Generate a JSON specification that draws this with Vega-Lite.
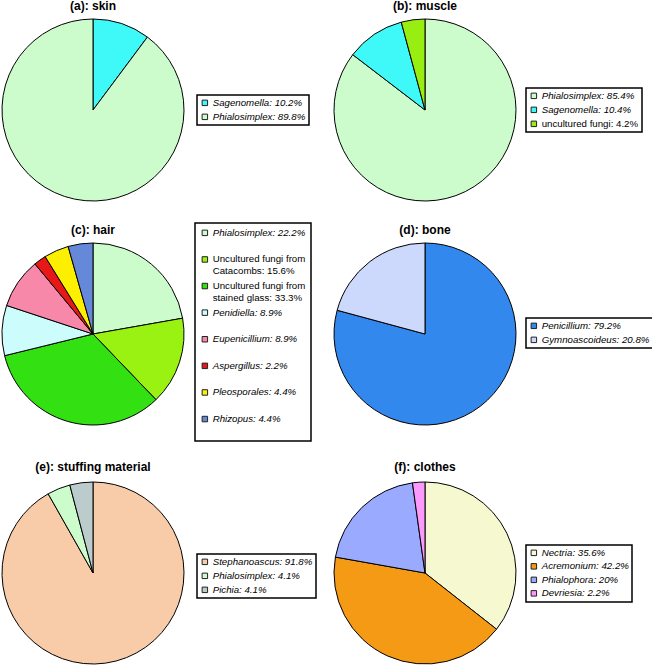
{
  "$schema": "https://vega.github.io/schema/vega-lite/v6.json",
  "padding": {"left": 0, "top": 0, "right": 0, "bottom": 0},
  "background": "white",
  "datasets": {
    "skin": [
      {"idx": 1, "name": "Sagenomella", "pct": 10.2, "label": "Sagenomella: 10.2%"},
      {"idx": 2, "name": "Phialosimplex", "pct": 89.8, "label": "Phialosimplex: 89.8%"}
    ],
    "muscle": [
      {"idx": 1, "name": "Phialosimplex", "pct": 85.4, "label": "Phialosimplex: 85.4%"},
      {"idx": 2, "name": "Sagenomella", "pct": 10.4, "label": "Sagenomella: 10.4%"},
      {"idx": 3, "name": "uncultured fungi", "pct": 4.2, "label": "uncultured fungi: 4.2%"}
    ],
    "hair": [
      {"idx": 1, "name": "Phialosimplex", "pct": 22.2, "label": "Phialosimplex: 22.2%"},
      {"idx": 2, "name": "Uncultured fungi from Catacombs", "pct": 15.6, "label": "Uncultured fungi from Catacombs: 15.6%"},
      {"idx": 3, "name": "Uncultured fungi from stained glass", "pct": 33.3, "label": "Uncultured fungi from stained glass: 33.3%"},
      {"idx": 4, "name": "Penidiella", "pct": 8.9, "label": "Penidiella: 8.9%"},
      {"idx": 5, "name": "Eupenicillium", "pct": 8.9, "label": "Eupenicillium: 8.9%"},
      {"idx": 6, "name": "Aspergillus", "pct": 2.2, "label": "Aspergillus: 2.2%"},
      {"idx": 7, "name": "Pleosporales", "pct": 4.4, "label": "Pleosporales: 4.4%"},
      {"idx": 8, "name": "Rhizopus", "pct": 4.4, "label": "Rhizopus: 4.4%"}
    ],
    "bone": [
      {"idx": 1, "name": "Penicillium", "pct": 79.2, "label": "Penicillium: 79.2%"},
      {"idx": 2, "name": "Gymnoascoideus", "pct": 20.8, "label": "Gymnoascoideus: 20.8%"}
    ],
    "stuffing": [
      {"idx": 1, "name": "Stephanoascus", "pct": 91.8, "label": "Stephanoascus: 91.8%"},
      {"idx": 2, "name": "Phialosimplex", "pct": 4.1, "label": "Phialosimplex: 4.1%"},
      {"idx": 3, "name": "Pichia", "pct": 4.1, "label": "Pichia: 4.1%"}
    ],
    "clothes": [
      {"idx": 1, "name": "Nectria", "pct": 35.6, "label": "Nectria: 35.6%"},
      {"idx": 2, "name": "Acremonium", "pct": 42.2, "label": "Acremonium: 42.2%"},
      {"idx": 3, "name": "Phialophora", "pct": 20, "label": "Phialophora: 20%"},
      {"idx": 4, "name": "Devriesia", "pct": 2.2, "label": "Devriesia: 2.2%"}
    ]
  },
  "columns": 2,
  "spacing": {"row": 19, "column": 15},
  "resolve": {"scale": {"color": "independent", "theta": "independent"}, "legend": {"color": "independent"}},
  "concat": [
    {
      "data": {"name": "skin"},
      "title": {"text": "(a): skin", "offset": 4},
      "width": 182, "height": 182,
      "mark": {"type": "arc", "stroke": "black", "strokeWidth": 1},
      "encoding": {
        "theta": {"field": "pct", "type": "quantitative", "stack": true},
        "order": {"field": "idx", "type": "quantitative"},
        "color": {"field": "label", "type": "nominal",
          "scale": {"domain": ["Sagenomella: 10.2%", "Phialosimplex: 89.8%"], "range": ["#3ff8f8", "#ccfccc"]},
          "legend": {"orient": "none", "legendX": 195, "legendY": 76,
            "encode": {"labels": {"update": {"fontStyle": {"signal": "indexof(lower(datum.label), 'uncultured') === 0 ? 'normal' : 'italic'"}}}}}}
      }
    },
    {
      "data": {"name": "muscle"},
      "title": {"text": "(b): muscle", "offset": 4},
      "width": 182, "height": 182,
      "mark": {"type": "arc", "stroke": "black", "strokeWidth": 1},
      "encoding": {
        "theta": {"field": "pct", "type": "quantitative", "stack": true},
        "order": {"field": "idx", "type": "quantitative"},
        "color": {"field": "label", "type": "nominal",
          "scale": {"domain": ["Phialosimplex: 85.4%", "Sagenomella: 10.4%", "uncultured fungi: 4.2%"], "range": ["#ccfccc", "#3ff8f8", "#99ee11"]},
          "legend": {"orient": "none", "legendX": 192, "legendY": 69,
            "encode": {"labels": {"update": {"fontStyle": {"signal": "indexof(lower(datum.label), 'uncultured') === 0 ? 'normal' : 'italic'"}}}}}}
      }
    },
    {
      "data": {"name": "hair"},
      "title": {"text": "(c): hair", "offset": -15},
      "width": 182, "height": 182,
      "mark": {"type": "arc", "stroke": "black", "strokeWidth": 1},
      "encoding": {
        "theta": {"field": "pct", "type": "quantitative", "stack": true},
        "order": {"field": "idx", "type": "quantitative"},
        "color": {"field": "label", "type": "nominal",
          "scale": {"domain": ["Phialosimplex: 22.2%", "Uncultured fungi from Catacombs: 15.6%", "Uncultured fungi from stained glass: 33.3%", "Penidiella: 8.9%", "Eupenicillium: 8.9%", "Aspergillus: 2.2%", "Pleosporales: 4.4%", "Rhizopus: 4.4%"],
                    "range": ["#ccfccc", "#99f211", "#33e011", "#ccfcfc", "#f888aa", "#e81818", "#fcf000", "#6688d8"]},
          "legend": {"orient": "none", "legendX": 193, "legendY": -20, "gridAlign": "all", "rowPadding": 3.6, "padding": 5,
            "title": " ", "titleOrient": "bottom", "titleFontSize": 10, "titlePadding": 2,
            "labelExpr": "indexof(datum.label, ' from ') > 0 ? [substring(datum.label, 0, indexof(datum.label, ' from ') + 5), substring(datum.label, indexof(datum.label, ' from ') + 6)] : datum.label",
            "encode": {
              "labels": {"update": {"fontStyle": {"signal": "indexof(lower(datum.label), 'uncultured') === 0 ? 'normal' : 'italic'"}}}}}}
      }
    },
    {
      "data": {"name": "bone"},
      "title": {"text": "(d): bone", "offset": 4},
      "width": 182, "height": 182,
      "mark": {"type": "arc", "stroke": "black", "strokeWidth": 1},
      "encoding": {
        "theta": {"field": "pct", "type": "quantitative", "stack": true},
        "order": {"field": "idx", "type": "quantitative"},
        "color": {"field": "label", "type": "nominal",
          "scale": {"domain": ["Penicillium: 79.2%", "Gymnoascoideus: 20.8%"], "range": ["#3388ee", "#ccd8fc"]},
          "legend": {"orient": "none", "legendX": 192, "legendY": 75,
            "encode": {"labels": {"update": {"fontStyle": {"signal": "indexof(lower(datum.label), 'uncultured') === 0 ? 'normal' : 'italic'"}}}}}}
      }
    },
    {
      "data": {"name": "stuffing"},
      "title": {"text": "(e): stuffing material", "offset": 6},
      "width": 182, "height": 182,
      "mark": {"type": "arc", "stroke": "black", "strokeWidth": 1},
      "encoding": {
        "theta": {"field": "pct", "type": "quantitative", "stack": true},
        "order": {"field": "idx", "type": "quantitative"},
        "color": {"field": "label", "type": "nominal",
          "scale": {"domain": ["Stephanoascus: 91.8%", "Phialosimplex: 4.1%", "Pichia: 4.1%"], "range": ["#f8cca8", "#ccfccc", "#bccccc"]},
          "legend": {"orient": "none", "legendX": 195, "legendY": 72,
            "encode": {"labels": {"update": {"fontStyle": {"signal": "indexof(lower(datum.label), 'uncultured') === 0 ? 'normal' : 'italic'"}}}}}}
      }
    },
    {
      "data": {"name": "clothes"},
      "title": {"text": "(f): clothes", "offset": 6},
      "width": 182, "height": 182,
      "mark": {"type": "arc", "stroke": "black", "strokeWidth": 1},
      "encoding": {
        "theta": {"field": "pct", "type": "quantitative", "stack": true},
        "order": {"field": "idx", "type": "quantitative"},
        "color": {"field": "label", "type": "nominal",
          "scale": {"domain": ["Nectria: 35.6%", "Acremonium: 42.2%", "Phialophora: 20%", "Devriesia: 2.2%"], "range": ["#f6f8d0", "#f59a15", "#99aaff", "#fc99fc"]},
          "legend": {"orient": "none", "legendX": 192, "legendY": 63, "rowPadding": 2.5,
            "encode": {"labels": {"update": {"fontStyle": {"signal": "indexof(lower(datum.label), 'uncultured') === 0 ? 'normal' : 'italic'"}}}}}}
      }
    }
  ],
  "config": {
    "view": {"stroke": null},
    "font": "Liberation Sans",
    "title": {"font": "Liberation Sans", "fontSize": 12, "fontWeight": "bold", "color": "black", "frame": "group", "anchor": "middle"},
    "legend": {
      "title": null,
      "symbolType": "square", "symbolSize": 30, "symbolStrokeColor": "#222222", "symbolStrokeWidth": 1, "symbolOpacity": 1,
      "labelFont": "Liberation Sans", "labelFontSize": 9.7, "labelColor": "black", "labelOffset": 3, "labelLimit": 300,
      "strokeColor": "black", "strokeWidth": 1.5, "fillColor": "white", "padding": 3, "rowPadding": 3,
      "symbolOffset": 0
    }
  }
}
